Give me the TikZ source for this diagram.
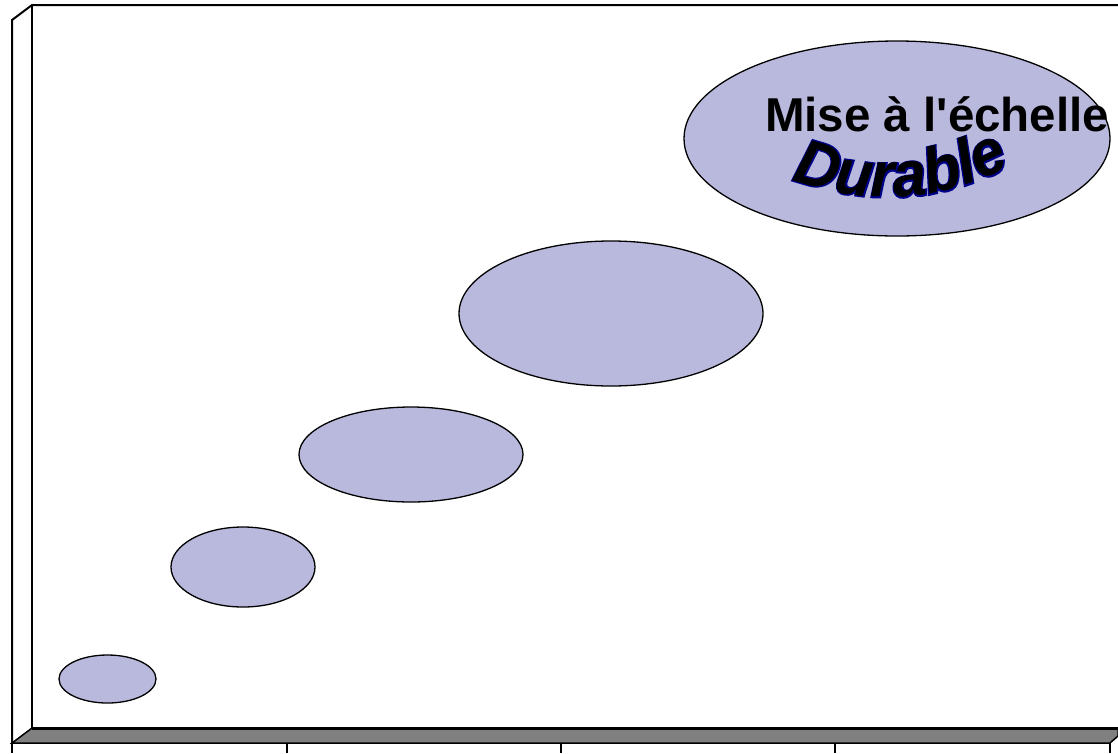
\documentclass[tikz,border=0pt]{standalone}
\usepackage{fontspec}
\usetikzlibrary{shapes.geometric,decorations.text}
\newfontfamily\labfont{Liberation Sans}
\newfontfamily\durin{Liberation Sans}[FakeStretch=0.95]
\newfontfamily\durout{Liberation Sans}[FakeStretch=0.95,FakeBold=4]
\definecolor{bubfill}{RGB}{185,185,221}
\definecolor{floorgray}{RGB}{128,128,128}
\definecolor{wordnavy}{RGB}{0,0,140}
\begin{document}
\begin{tikzpicture}[x=1pt,y=-1pt,
  bub/.style={ellipse, draw=black, line width=1.3pt, fill=bubfill, inner sep=0pt},
  wall/.style={line width=2pt, line join=miter},
  floorpanel/.style={fill=floorgray, draw=black, line width=1.5pt, line join=miter},
  tickline/.style={line width=1.5pt},
  titlefont/.style={font=\labfont\bfseries\fontsize{47.5}{47.5}\selectfont}]
\useasboundingbox (0,0) rectangle (1118,753);
\fill[white] (0,0) rectangle (1118,753);
% frame
\coordinate (wtl) at (12,20);
\coordinate (wbl) at (12,743);
\coordinate (btl) at (32,5);
\coordinate (btr) at (1118,5);
\coordinate (bbl) at (32,728);
\coordinate (bbr) at (1118,728);
\coordinate (fr1) at (1118,736);
\coordinate (fr2) at (1110,743);
\draw[wall] (wbl) -- (wtl) -- (btl) -- (btr);
\draw[wall] (btl) -- (bbl);
\draw[floorpanel] (bbl) -- (bbr) -- (fr1) -- (fr2) -- (wbl) -- cycle;
\draw[line width=3pt] (bbl) -- (bbr);
\foreach \x in {12,287,561,835,1110} \draw[tickline] (\x,743) -- (\x,753);
% bubbles
\node[bub, minimum width=97pt, minimum height=48pt] (b1) at (107.5,679) {};
\node[bub, minimum width=144pt, minimum height=80pt] (b2) at (243,567) {};
\node[bub, minimum width=224pt, minimum height=95pt] (b3) at (411,454.5) {};
\node[bub, minimum width=304pt, minimum height=145pt] (b4) at (611,313.5) {};
\node[bub, minimum width=426pt, minimum height=195pt] (b5) at (897,138.5) {};
% texts
\node[titlefont, anchor=base west, inner sep=0pt] (title) at (765,131) {Mise à l'échelle};
\path[decorate, decoration={text along path, text align=center,
  text={|\color{wordnavy}\durout\bfseries\itshape\fontsize{64}{64}\selectfont|Durable}}]
  (786,177) .. controls (857,206) and (942,206) .. (1016,163);
\path[decorate, decoration={text along path, text align=center,
  text={|\color{black}\durin\bfseries\itshape\fontsize{64}{64}\selectfont|Durable}}]
  (786,177) .. controls (857,206) and (942,206) .. (1016,163);
\end{tikzpicture}
\end{document}
